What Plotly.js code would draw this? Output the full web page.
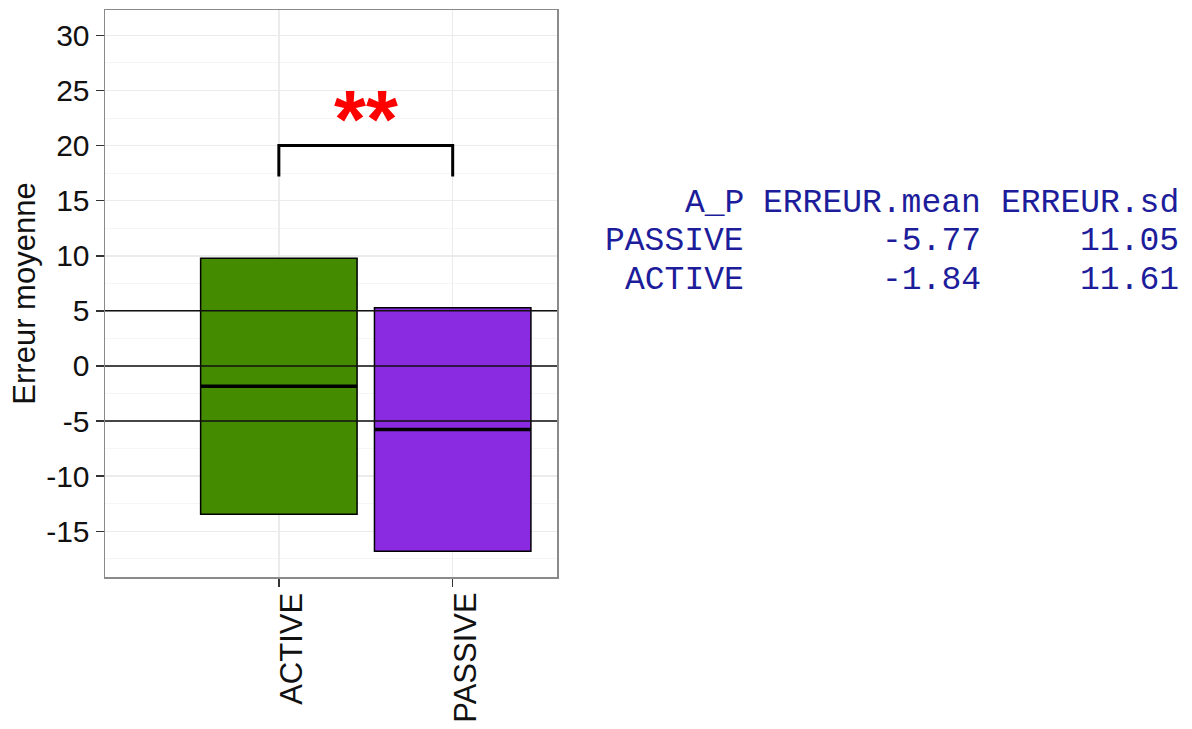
<!DOCTYPE html>
<html>
<head>
<meta charset="utf-8">
<script src="https://cdn.plot.ly/plotly-3.0.1.min.js"></script>
<style>
  html, body { margin: 0; padding: 0; background: #ffffff; }
  #chart { width: 1192px; height: 729px; }
</style>
</head>
<body>
<div id="chart"></div>
<script>
// ---- data ----
const categories = ['ACTIVE', 'PASSIVE'];
const means = [-1.84, -5.77];
const sds = [11.61, 11.05];
const barColors = ['#458B00', '#8A2BE2'];
const refLines = [5, 0, -5];
const yTickVals = [30, 25, 20, 15, 10, 5, 0, -5, -10, -15];
const yTickText = ['30', '25', '20', '15', '10', '5', '0', '-5', '-10', '-15'];
const bracketTop = 20;
const bracketLeg = 17.2;
const sigLabel = '**';
const sigY = 22.5;
const tableHeader = ['A_P', 'ERREUR.mean', 'ERREUR.sd'];
const tableRowLabels = ['PASSIVE', 'ACTIVE'];
const tableMeans = ['-5.77', '-1.84'];
const tableSds = ['11.05', '11.61'];

// ---- layout geometry (pixels) ----
const W = 1192, H = 729;
const plotL = 105, plotR = 557, plotT = 10, plotB = 577;
const px2x = p => (p - plotL) / (plotR - plotL);
const px2y = p => (plotB - p) / (plotB - plotT);
const colRight = [745, 982, 1180];
const rowMid = [203.5, 241.5, 280.5];

const xIdx = categories.map((c, i) => i);
const barWidth = 0.9;

const traces = [];
traces.push({
  type: 'bar',
  x: xIdx,
  y: sds.map(s => 2 * s),
  base: means.map((m, i) => m - sds[i]),
  width: barWidth,
  marker: { color: barColors, line: { color: '#000000', width: 1.5 } },
  hoverinfo: 'skip',
  showlegend: false
});
// significance bracket
traces.push({
  type: 'scatter',
  mode: 'lines',
  x: [xIdx[0], xIdx[0], xIdx[1], xIdx[1]],
  y: [bracketLeg, bracketTop, bracketTop, bracketLeg],
  line: { color: '#000000', width: 3 },
  hoverinfo: 'skip',
  showlegend: false
});

const shapes = [];
refLines.forEach(v => {
  shapes.push({
    type: 'line', xref: 'paper', yref: 'y', x0: 0, x1: 1, y0: v, y1: v,
    line: { color: '#111111', width: 1.5 }, layer: 'above'
  });
});
means.forEach((m, i) => {
  shapes.push({
    type: 'line', xref: 'x', yref: 'y',
    x0: xIdx[i] - barWidth / 2, x1: xIdx[i] + barWidth / 2, y0: m, y1: m,
    line: { color: '#000000', width: 3.5 }, layer: 'above'
  });
});

const monoFont = { family: 'Liberation Mono, Courier New, monospace', size: 33, color: '#1d1d9b' };
const annotations = [];
const tableRows = [tableHeader].concat(tableRowLabels.map((r, i) => [r, tableMeans[i], tableSds[i]]));
tableRows.forEach((row, ri) => {
  row.forEach((cell, ci) => {
    annotations.push({
      xref: 'paper', yref: 'paper',
      x: px2x(colRight[ci]), y: px2y(rowMid[ri]),
      xanchor: 'right', yanchor: 'middle',
      text: cell, showarrow: false, font: monoFont, borderpad: 0
    });
  });
});
// category labels (rotated, placed just right of each tick like the reference)
categories.forEach((c, i) => {
  annotations.push({
    xref: 'x', yref: 'paper', x: xIdx[i], y: 0,
    xshift: 12, yshift: -15,
    xanchor: 'center', yanchor: 'top',
    textangle: -90,
    text: c, showarrow: false, borderpad: 0,
    font: { family: 'Liberation Sans, Arial, sans-serif', size: 31, color: '#111111' }
  });
});
annotations.push({
  xref: 'x', yref: 'y', x: (xIdx[0] + xIdx[1]) / 2, y: sigY,
  text: '<b>' + sigLabel + '</b>', showarrow: false,
  xanchor: 'center', yanchor: 'middle',
  font: { family: 'Liberation Sans, Arial, sans-serif', size: 82, color: '#FF0000' }
});

const layout = {
  width: W, height: H,
  margin: { l: plotL, r: W - plotR, t: plotT, b: H - plotB, pad: 0 },
  paper_bgcolor: '#ffffff',
  plot_bgcolor: '#ffffff',
  font: { family: 'Liberation Sans, Arial, sans-serif', color: '#111111' },
  showlegend: false,
  xaxis: {
    range: [-1.0, 1.6],
    tickmode: 'array', tickvals: xIdx, ticktext: categories.map(() => ''),
    ticks: 'outside', ticklen: 8, tickwidth: 1.5, tickcolor: '#333333',
    showgrid: true, gridcolor: '#ebebeb', gridwidth: 1.5,
    zeroline: false,
    showline: true, mirror: true, linecolor: '#8a8a8a', linewidth: 1.5,
    fixedrange: true
  },
  yaxis: {
    range: [-19.15, 32.3],
    tickmode: 'array', tickvals: yTickVals, ticktext: yTickText,
    tickfont: { size: 30, color: '#111111' },
    ticks: 'outside', ticklen: 8, tickwidth: 1.5, tickcolor: '#333333',
    showgrid: true, gridcolor: '#ebebeb', gridwidth: 1.5,
    minor: { tickmode: 'linear', tick0: 2.5, dtick: 5, showgrid: true, gridcolor: '#f5f5f5', gridwidth: 1, ticks: '' },
    zeroline: false,
    showline: true, mirror: true, linecolor: '#8a8a8a', linewidth: 1.5,
    title: { text: 'Erreur moyenne', font: { size: 31, color: '#111111' }, standoff: 1 },
    fixedrange: true
  },
  shapes: shapes,
  annotations: annotations,
  bargap: 0
};

Plotly.newPlot('chart', traces, layout, { displayModeBar: false, staticPlot: true });
</script>
</body>
</html>
